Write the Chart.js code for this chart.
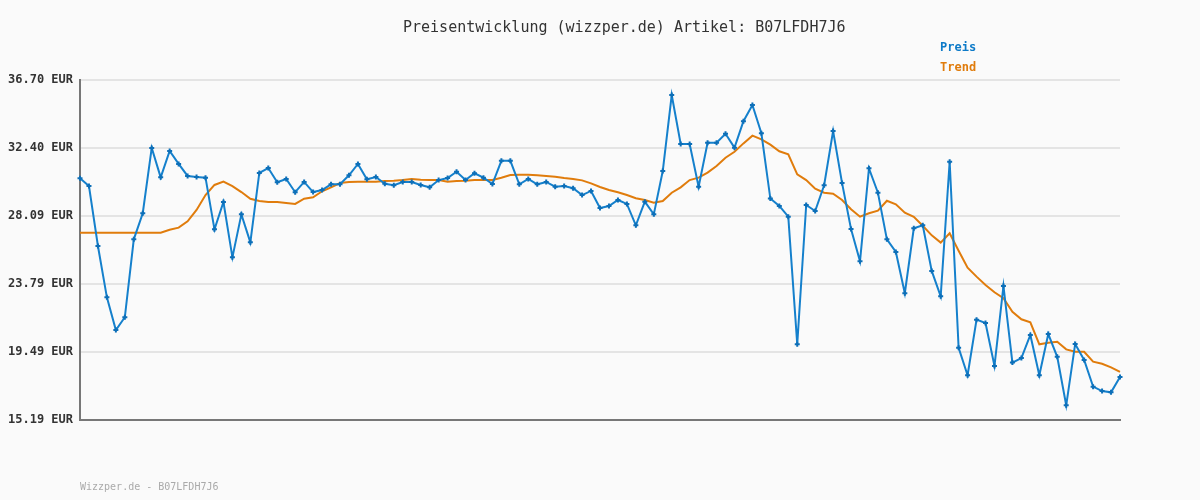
<!DOCTYPE html>
<html lang="de">
<head>
<meta charset="utf-8">
<title>Preisentwicklung B07LFDH7J6</title>
<script src="https://cdn.jsdelivr.net/npm/chart.js@4/dist/chart.umd.min.js"></script>
<style>
    html, body { margin: 0; padding: 0; background: #fafafa; }
    #wrap { position: relative; width: 1200px; height: 500px; }
    #chart { position: absolute; left: 0; top: 0; }
    .txt { position: absolute; font-family: 'DejaVu Sans Mono', 'Liberation Mono', monospace; white-space: nowrap; line-height: 1; }
    #title { left: 403px; top: 20px; font-size: 15px; color: #333; }
    .legend { left: 940px; font-size: 12px; font-weight: bold; }
    #footer { left: 80px; top: 482px; font-size: 10px; color: #aaa; }
</style>
</head>
<body>
<div id="wrap">
    <canvas id="chart" width="1200" height="500"></canvas>
    <div class="txt" id="title">Preisentwicklung (wizzper.de) Artikel: B07LFDH7J6</div>
    <div class="txt legend" style="top:41px;color:#0d7ac8">Preis</div>
    <div class="txt legend" style="top:61px;color:#e07c0c">Trend</div>
    <div class="txt" id="footer">Wizzper.de - B07LFDH7J6</div>
</div>
<script>
const yTicks = [15.19, 19.49, 23.79, 28.09, 32.40, 36.70];

const preis = [
    30.48, 29.99, 26.20, 22.95, 20.88, 21.69, 26.62, 28.27, 32.40, 30.54,
    32.21, 31.39, 30.63, 30.56, 30.52, 27.25, 28.98, 25.48, 28.20, 26.43,
    30.82, 31.13, 30.23, 30.44, 29.60, 30.25, 29.61, 29.74, 30.10, 30.10,
    30.67, 31.39, 30.42, 30.56, 30.14, 30.04, 30.25, 30.25, 30.06, 29.91,
    30.37, 30.50, 30.90, 30.37, 30.80, 30.52, 30.12, 31.59, 31.59, 30.10,
    30.44, 30.10, 30.25, 29.95, 29.99, 29.85, 29.42, 29.68, 28.60, 28.73,
    29.11, 28.86, 27.51, 29.00, 28.20, 30.94, 35.75, 32.65, 32.65, 29.95,
    32.73, 32.73, 33.30, 32.42, 34.09, 35.12, 33.33, 29.20, 28.73, 28.05,
    19.98, 28.79, 28.41, 30.04, 33.47, 30.18, 27.27, 25.23, 31.11, 29.57,
    26.62, 25.82, 23.21, 27.32, 27.51, 24.62, 23.02, 31.53, 19.76, 18.02,
    21.54, 21.33, 18.61, 23.67, 18.82, 19.11, 20.57, 18.02, 20.63, 19.19,
    16.12, 20.00, 18.99, 17.30, 17.02, 16.94, 17.91
];

const trend = [
    27.04, 27.04, 27.04, 27.04, 27.04, 27.04, 27.04, 27.04, 27.04, 27.04,
    27.23, 27.36, 27.76, 28.48, 29.42, 30.06, 30.27, 29.99, 29.61, 29.19,
    29.04, 28.98, 28.98, 28.92, 28.86, 29.19, 29.28, 29.66, 29.91, 30.18,
    30.25, 30.27, 30.27, 30.27, 30.31, 30.33, 30.37, 30.44, 30.39, 30.37,
    30.37, 30.27, 30.31, 30.33, 30.37, 30.37, 30.37, 30.52, 30.69, 30.71,
    30.71, 30.67, 30.63, 30.58, 30.50, 30.44, 30.35, 30.16, 29.93, 29.74,
    29.60, 29.42, 29.22, 29.11, 28.94, 29.04, 29.57, 29.91, 30.37, 30.52,
    30.84, 31.26, 31.78, 32.16, 32.69, 33.18, 32.95, 32.61, 32.19, 32.00,
    30.73, 30.37, 29.82, 29.57, 29.51, 29.11, 28.52, 28.05, 28.27, 28.43,
    29.06, 28.84, 28.31, 28.05, 27.48, 26.87, 26.41, 27.00, 25.90, 24.83,
    24.26, 23.73, 23.27, 22.89, 22.04, 21.56, 21.37, 19.98, 20.08, 20.14,
    19.66, 19.51, 19.51, 18.88, 18.75, 18.52, 18.23
];

const labels = preis.map((_, i) => String(i + 1));

const ctx = document.getElementById('chart');
new Chart(ctx, {
    type: 'line',
    data: {
        labels: labels,
        datasets: [
            {
                label: 'Trend',
                data: trend,
                borderColor: '#e07c0c',
                borderWidth: 2,
                pointRadius: 0,
                tension: 0,
                order: 2
            },
            {
                label: 'Preis',
                data: preis,
                borderColor: '#1580cc',
                backgroundColor: '#1580cc',
                borderWidth: 2,
                pointStyle: 'cross',
                pointRadius: 2.5,
                pointBorderWidth: 2,
                pointBorderColor: '#0d6fb8',
                tension: 0,
                order: 1
            }
        ]
    },
    options: {
        responsive: false,
        animation: false,
        layout: { padding: { top: 80, right: 80, bottom: 80, left: 0 } },
        plugins: {
            legend: { display: false },
            tooltip: { enabled: false }
        },
        scales: {
            x: {
                offset: false,
                ticks: { display: false },
                grid: { display: false },
                border: { display: true, color: '#777', width: 2 },
                afterFit: (scale) => { scale.height = 0; }
            },
            y: {
                min: yTicks[0],
                max: yTicks[yTicks.length - 1],
                afterBuildTicks: (scale) => { scale.ticks = yTicks.map(v => ({ value: v })); },
                afterFit: (scale) => { scale.width = 80; },
                grid: { color: '#e4e4e4', lineWidth: 2, drawTicks: false },
                border: { display: true, color: '#777', width: 2 },
                ticks: {
                    padding: 7,
                    color: '#333',
                    font: { family: "'DejaVu Sans Mono', monospace", size: 12, weight: 'bold' },
                    callback: (v) => Number(v).toFixed(2) + ' EUR'
                }
            }
        }
    }
});
</script>
</body>
</html>
